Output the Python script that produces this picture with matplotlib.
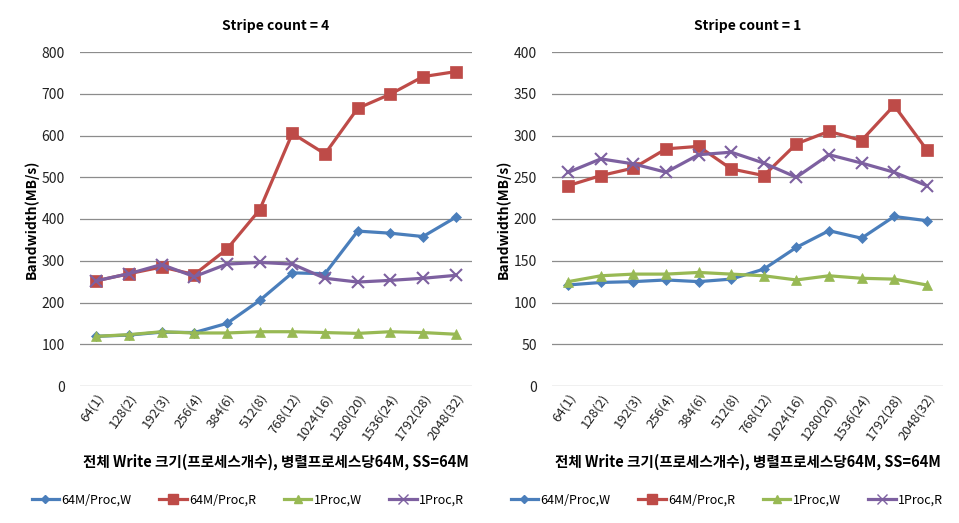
import matplotlib
matplotlib.use("Agg")
import matplotlib.pyplot as plt
from matplotlib.lines import Line2D

plt.rcParams['font.family'] = ['Noto Sans CJK KR', 'DejaVu Sans']

sizes = ["64(1)", "128(2)", "192(3)", "256(4)", "384(6)", "512(8)", "768(12)",
         "1024(16)", "1280(20)", "1536(24)", "1792(28)", "2048(32)"]

# stripe count = 4
s4_w64 = [119, 122, 129, 128, 150, 205, 271, 269, 371, 366, 358, 404]
s4_r64 = [252, 269, 285, 267, 328, 422, 605, 556, 665, 699, 741, 753]
s4_w1 = [119, 123, 130, 127, 127, 130, 130, 128, 126, 130, 128, 124]
s4_r1 = [252, 269, 291, 262, 292, 296, 292, 258, 249, 253, 258, 265]

# stripe count = 1
s1_w64 = [121, 124, 125, 127, 125, 128, 140, 166, 186, 177, 203, 198]
s1_r64 = [240, 252, 261, 284, 287, 260, 252, 290, 305, 294, 336, 283]
s1_w1 = [125, 132, 134, 134, 136, 134, 132, 127, 132, 129, 128, 121]
s1_r1 = [256, 272, 266, 256, 277, 280, 267, 250, 277, 267, 256, 240]

names = ["64M/Proc,W", "64M/Proc,R", "1Proc,W", "1Proc,R"]
colors = ["#4A7EBB", "#BE4B48", "#98B954", "#7D60A0"]
markers = ["D", "s", "^", "x"]
msizes = [5, 8, 7, 8]

xlab = "전체 Write 크기(프로세스개수), 병렬프로세스당64M, SS=64M"

fig = plt.figure(figsize=(9.59, 5.23), dpi=100)
ax1 = fig.add_axes([80/959, 1-386/523, 392/959, 334/523])
ax2 = fig.add_axes([552/959, 1-386/523, 391/959, 334/523])

panels = [
    (ax1, "Stripe count = 4", [s4_w64, s4_r64, s4_w1, s4_r1], 800, 100, 248),
    (ax2, "Stripe count = 1", [s1_w64, s1_r64, s1_w1, s1_r1], 400, 50, 727),
]

x = list(range(len(sizes)))
for ax, title, series, ymax, step, legx in panels:
    for vals, c, m, ms in zip(series, colors, markers, msizes):
        ax.plot(x, vals, color=c, marker=m, markersize=ms, linewidth=2.3,
                markeredgewidth=1.5 if m == "x" else 0.5)
    ax.set_ylim(0, ymax)
    ax.set_yticks(range(0, ymax + 1, step))
    ax.set_xlim(-0.5, len(sizes) - 0.5)
    ax.set_xticks(x)
    ax.set_xticklabels(sizes, rotation=55, ha="right", rotation_mode="anchor",
                       fontsize=9.5, color="#222222")
    ax.tick_params(axis="y", labelsize=10, length=0, pad=11, labelcolor="#222222")
    ax.tick_params(axis="x", length=0, pad=4)
    ax.grid(axis="y", color="#8c8c8c", linewidth=0.9)
    ax.set_axisbelow(True)
    for sp in ax.spines.values():
        sp.set_visible(False)
    ax.set_title(title, fontsize=10, fontweight="bold", pad=16)
    ax.set_ylabel("Bandwidth(MB/s)", fontsize=10, fontweight="bold", labelpad=2)
    ax.set_xlabel(xlab, fontsize=10.5, fontweight="bold", labelpad=8)

    handles = [Line2D([0], [0], color=c, marker=m, markersize=ms - 1, linewidth=2.3)
               for c, m, ms in zip(colors, markers, msizes)]
    fig.legend(handles, names, loc="center", bbox_to_anchor=(legx/959, 1-500/523),
               bbox_transform=fig.transFigure,
               ncol=4, frameon=False, fontsize=9, handlelength=2.2,
               handletextpad=0.2, columnspacing=2.2)

fig.savefig("out.png", dpi=100)
